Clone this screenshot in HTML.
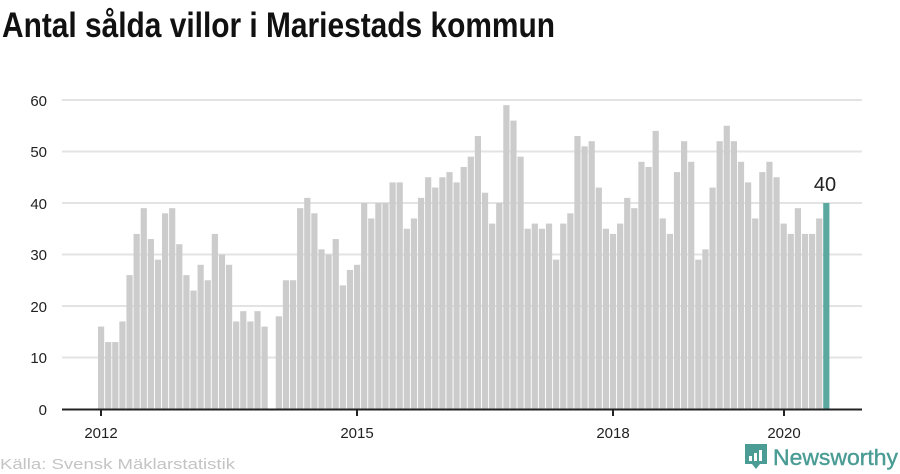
<!DOCTYPE html>
<html><head><meta charset="utf-8"><style>
body{margin:0;background:#fff;width:900px;height:474px;overflow:hidden}
svg{display:block}
text{font-family:"Liberation Sans",sans-serif}
</style></head><body>
<svg id="s" width="900" height="474" viewBox="0 0 900 474">
<text x="2" y="37" font-size="35" font-weight="bold" fill="#111" textLength="553" lengthAdjust="spacingAndGlyphs">Antal sålda villor i Mariestads kommun</text>
<g stroke="#e3e3e3" stroke-width="2">
<line x1="62" x2="862" y1="100" y2="100"/><line x1="62" x2="862" y1="151.5" y2="151.5"/>
<line x1="62" x2="862" y1="203" y2="203"/><line x1="62" x2="862" y1="254.5" y2="254.5"/>
<line x1="62" x2="862" y1="306" y2="306"/><line x1="62" x2="862" y1="357.5" y2="357.5"/>
</g>
<g font-size="15" fill="#222" text-anchor="end">
<text x="47" y="106">60</text><text x="47" y="157">50</text><text x="47" y="209">40</text>
<text x="47" y="260">30</text><text x="47" y="312">20</text><text x="47" y="363">10</text><text x="47" y="415">0</text>
</g>
<g id="bars"></g>
<line x1="62" x2="862" y1="409.5" y2="409.5" stroke="#222" stroke-width="2"/>
<g stroke="#222" stroke-width="2">
<line x1="101" x2="101" y1="409" y2="416"/><line x1="357" x2="357" y1="409" y2="416"/>
<line x1="613" x2="613" y1="409" y2="416"/><line x1="784" x2="784" y1="409" y2="416"/>
</g>
<g font-size="15" fill="#222" text-anchor="middle">
<text x="101" y="438">2012</text><text x="357" y="438">2015</text>
<text x="613" y="438">2018</text><text x="784" y="438">2020</text>
</g>
<text x="825" y="191" font-size="20" fill="#222" text-anchor="middle">40</text>
<text x="0" y="469" font-size="15" fill="#c4c4c4" textLength="235" lengthAdjust="spacingAndGlyphs">Källa: Svensk Mäklarstatistik</text>
<g>
<path d="M745 444 h22 v20 h-7 l-4 5 l-4 -5 h-7 z" fill="#4a9c94"/>
<rect x="749" y="456" width="3" height="5" fill="#fff"/><rect x="754" y="453" width="3" height="8" fill="#fff"/><rect x="759" y="450" width="3" height="11" fill="#fff"/>
<text x="773" y="465" font-size="22" fill="#4a9c94" stroke="#4a9c94" stroke-width="0.4" textLength="125" lengthAdjust="spacingAndGlyphs">Newsworthy</text>
</g>
</svg>
<script>
var v=[16,13,13,17,26,34,39,33,29,38,39,32,
26,23,28,25,34,30,28,17,19,17,19,16,
0,18,25,25,39,41,38,31,30,33,24,27,
28,40,37,40,40,44,44,35,37,41,45,43,
45,46,44,47,49,53,42,36,40,59,56,49,
35,36,35,36,29,36,38,53,51,52,43,35,
34,36,41,39,48,47,54,37,34,46,52,48,
29,31,43,52,55,52,48,44,37,46,48,45,
36,34,39,34,34,37,40];
var g=document.getElementById('bars'),h='';
for(var i=0;i<v.length;i++){var x=98+i*7.11,hh=v[i]*5.15;
h+='<rect x="'+x.toFixed(2)+'" y="'+(409-hh).toFixed(2)+'" width="6.2" height="'+hh.toFixed(2)+'" fill="'+(i==v.length-1?'#5aa89e':'#cccccc')+'"/>';}
g.innerHTML=h;
</script>
</body></html>
